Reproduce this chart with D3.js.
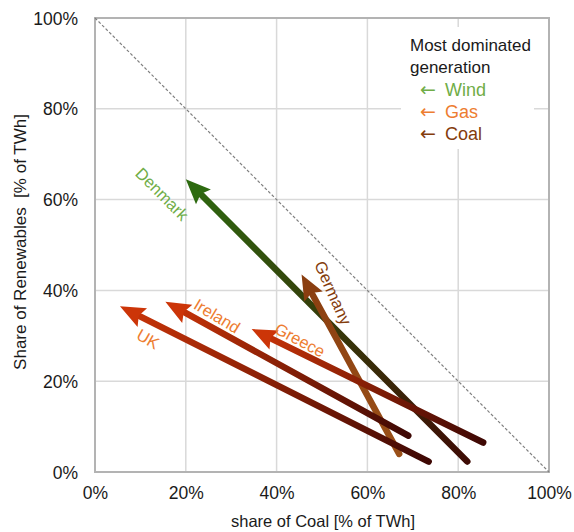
<!DOCTYPE html>
<html>
<head>
<meta charset="utf-8">
<script src="https://cdn.jsdelivr.net/npm/d3@7"></script>
<style>
  body { margin: 0; background: #fff; }
  svg { display: block; }
</style>
</head>
<body>
<svg id="chart" width="574" height="532"></svg>
<script>
// ---- data ----
const countries = ["Denmark", "Germany", "Greece", "Ireland", "UK"];
const coalStart = [82, 67, 85.5, 69, 73.5];     // tail x (% coal)
const renewStart = [2.3, 4, 6.5, 8, 2.3];       // tail y (% renewables)
const coalEnd = [20, 45.5, 34.5, 15.5, 5.5];    // head x
const renewEnd = [64.5, 43.5, 31.5, 37.5, 36.5];// head y
const dominated = ["Wind", "Coal", "Gas", "Gas", "Gas"];
const tickValues = [0, 20, 40, 60, 80, 100];
const legendItems = ["Wind", "Gas", "Coal"];

// ---- styles ----
const headColor = { Denmark: "#2d6a10", Germany: "#8a3e10", Greece: "#cc3508", Ireland: "#cc3508", UK: "#cc3508" };
const tailColor = { Denmark: "#3e0c05", Germany: "#9a5018", Greece: "#3e0804", Ireland: "#3e0804", UK: "#3e0804" };
const labelColor = { Wind: "#70ad47", Gas: "#ed7d31", Coal: "#843c0c" };

const svg = d3.select("#chart");
const L = 95, R = 549, T = 18, B = 472;
const x = d3.scaleLinear().domain([0, 100]).range([L, R]);
const y = d3.scaleLinear().domain([0, 100]).range([B, T]);
const font = "'Liberation Sans', Arial, sans-serif";

// gridlines
const grid = svg.append("g");
grid.selectAll("line.v").data(tickValues.slice(1, -1)).enter().append("line")
  .attr("x1", d => x(d)).attr("x2", d => x(d)).attr("y1", T).attr("y2", B)
  .attr("stroke", "#d9d9d9").attr("stroke-width", 1.5);
grid.selectAll("line.h").data(tickValues.slice(1, -1)).enter().append("line")
  .attr("y1", d => y(d)).attr("y2", d => y(d)).attr("x1", L).attr("x2", R)
  .attr("stroke", "#d9d9d9").attr("stroke-width", 1.5);

// frame
svg.append("rect").attr("x", L).attr("y", T).attr("width", R - L).attr("height", B - T)
  .attr("fill", "none").attr("stroke", "#b3b3b3").attr("stroke-width", 2);

// diagonal
svg.append("line").attr("x1", x(0)).attr("y1", y(100)).attr("x2", x(100)).attr("y2", y(0))
  .attr("stroke", "#808080").attr("stroke-width", 1.2).attr("stroke-dasharray", "3,2");

// axes
const xAxis = d3.axisBottom(x).tickValues(tickValues).tickSize(0).tickFormat(d => d + "%");
const yAxis = d3.axisLeft(y).tickValues(tickValues).tickSize(0).tickFormat(d => d + "%");
const gx = svg.append("g").attr("transform", `translate(0,${B + 9})`).call(xAxis);
const gy = svg.append("g").attr("transform", `translate(${L - 14},0)`).call(yAxis);
[gx, gy].forEach(g => {
  g.select(".domain").remove();
  g.selectAll("text").attr("font-family", font).attr("font-size", 17.5).attr("fill", "#1a1a1a");
});
gx.selectAll("text").attr("dy", "0.85em");
gy.selectAll("text").attr("dy", "0.35em");

svg.append("text").attr("x", (L + R) / 2 + 1).attr("y", 527).attr("text-anchor", "middle")
  .attr("font-family", font).attr("font-size", 16.5).attr("fill", "#1a1a1a")
  .text("share of Coal [% of TWh]");
svg.append("text").attr("transform", `translate(26,${(T + B) / 2 - 3}) rotate(-90)`)
  .attr("text-anchor", "middle").attr("xml:space", "preserve")
  .attr("font-family", font).attr("font-size", 17).attr("fill", "#1a1a1a")
  .text("Share of Renewables  [% of TWh]");

// arrows
const defs = svg.append("defs");
const headLen = 25, headHalf = 10.5, shaftW = 6.5;
const arrows = svg.append("g");
countries.forEach((c, i) => {
  const x0 = x(coalStart[i]), y0 = y(renewStart[i]);
  const x1 = x(coalEnd[i]), y1 = y(renewEnd[i]);
  const dx = x1 - x0, dy = y1 - y0, len = Math.hypot(dx, dy);
  const ux = dx / len, uy = dy / len;
  const bx = x1 - ux * headLen, by = y1 - uy * headLen;
  const gid = "g" + i;
  const grad = defs.append("linearGradient").attr("id", gid)
    .attr("gradientUnits", "userSpaceOnUse")
    .attr("x1", x0).attr("y1", y0).attr("x2", x1).attr("y2", y1);
  grad.append("stop").attr("offset", 0).attr("stop-color", tailColor[c]);
  grad.append("stop").attr("offset", 1).attr("stop-color", headColor[c]);
  arrows.append("line").attr("x1", x0).attr("y1", y0).attr("x2", bx + ux * 2).attr("y2", by + uy * 2)
    .attr("stroke", `url(#${gid})`).attr("stroke-width", shaftW).attr("stroke-linecap", "round");
  const px = -uy, py = ux;
  const pts = [[x1, y1], [bx + px * headHalf, by + py * headHalf], [bx + ux * 4, by + uy * 4], [bx - px * headHalf, by - py * headHalf]];
  arrows.append("polygon").attr("points", pts.map(p => p.join(",")).join(" "))
    .attr("fill", headColor[c]);
});

// country labels
const labelPos = { Denmark: [162, 194, 45], Germany: [333, 293, 66], Greece: [300, 340, 28], Ireland: [217, 316, 31], UK: [148, 339, 30] };
countries.forEach((c, i) => {
  const [lx, ly, a] = labelPos[c];
  svg.append("text").attr("transform", `translate(${lx},${ly}) rotate(${a})`)
    .attr("text-anchor", "middle").attr("dy", "0.35em")
    .attr("font-family", font).attr("font-size", 16.5)
    .attr("fill", labelColor[dominated[i]]).text(c);
});

// legend
svg.append("rect").attr("x", 401).attr("y", 27).attr("width", 133).attr("height", 122).attr("fill", "#fff");
const lg = svg.append("g").attr("font-family", font);
lg.append("text").attr("x", 410).attr("y", 51).attr("font-size", 17).attr("fill", "#1a1a1a").text("Most dominated");
lg.append("text").attr("x", 410).attr("y", 73).attr("font-size", 17).attr("fill", "#1a1a1a").text("generation");
const items = lg.selectAll("text.item").data(legendItems).enter().append("text")
  .attr("x", 420).attr("y", (d, i) => 96 + i * 22).attr("font-size", 18)
  .attr("fill", d => labelColor[d]);
items.append("tspan").attr("font-family", "'DejaVu Sans', sans-serif").attr("font-size", 19).text("\u2190");
items.append("tspan").attr("x", 445).text(d => d);
</script>
</body>
</html>
